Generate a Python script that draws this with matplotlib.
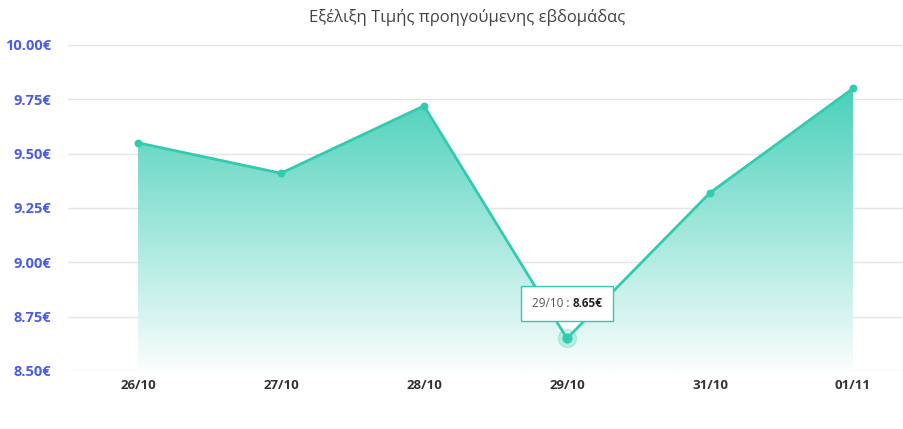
import matplotlib
matplotlib.use('Agg')
import matplotlib.pyplot as plt
import numpy as np
from matplotlib.colors import LinearSegmentedColormap
from matplotlib.offsetbox import TextArea, HPacker, AnnotationBbox

# δεδομένα
dates = ['26/10', '27/10', '28/10', '29/10', '31/10', '01/11']
prices = [9.55, 9.41, 9.72, 8.65, 9.32, 9.80]
yticks = [8.50, 8.75, 9.00, 9.25, 9.50, 9.75, 10.00]
title = 'Εξέλιξη Τιμής προηγούμενης εβδομάδας'
hl = 3  # σημείο με tooltip

teal = '#33cbb0'
plt.rcParams['font.family'] = ['Open Sans', 'DejaVu Sans']

fig = plt.figure(figsize=(9.04, 4.29), dpi=100)
ax = fig.add_axes([68 / 904, 1 - 371 / 429, 1 - 68 / 904, 326 / 429])

x = np.arange(len(dates))
ax.set_xlim(-0.49, 5.357)
ax.set_ylim(8.5, 10.0)

# gradient fill κάτω από τη γραμμή
cmap = LinearSegmentedColormap.from_list('g', ['#fafefe', '#3ccdb5'])
grad = np.linspace(0, 1, 256).reshape(-1, 1)
im = ax.imshow(grad, aspect='auto', cmap=cmap, origin='lower', alpha=0.93,
               extent=[x[0], x[-1], 8.5, max(prices)], zorder=1)
poly = ax.fill_between(x, prices, 8.5, color='none', lw=0)
im.set_clip_path(poly.get_paths()[0], transform=ax.transData)

ax.plot(x, prices, color=teal, lw=2, zorder=3)
ax.scatter(x, prices, s=22, color=teal, zorder=4)
ax.scatter([x[hl]], [prices[hl]], s=170, color=teal, alpha=0.25, zorder=3)
ax.scatter([x[hl]], [prices[hl]], s=40, color=teal, zorder=4)

ax.set_yticks(yticks)
ax.set_yticklabels([f'{v:.2f}€' for v in yticks], color='#4a5de3',
                   fontweight='bold', fontsize=10.5)
ax.set_xticks(x)
ax.set_xticklabels(dates, color='#333333', fontweight='bold', fontsize=9.5)
ax.tick_params(axis='both', length=0)
ax.tick_params(axis='y', pad=12)
ax.tick_params(axis='x', pad=6)
ax.grid(axis='y', color='#e4e4e4', lw=1)
ax.set_axisbelow(True)
for s in ax.spines.values():
    s.set_visible(False)

# tooltip
t1 = TextArea(f'{dates[hl]} : ', textprops=dict(color='#555555', fontsize=8.5))
t2 = TextArea(f'{prices[hl]:.2f}€', textprops=dict(color='#222222', fontsize=8.5,
                                                     fontweight='bold'))
box = HPacker(children=[t1, t2], align='baseline', pad=0, sep=0)
ab = AnnotationBbox(box, (x[hl], prices[hl]), xybox=(0, 25), xycoords='data',
                    boxcoords='offset points', frameon=True, pad=0.8,
                    bboxprops=dict(edgecolor=teal, facecolor='white', lw=1))
ax.add_artist(ab)
ab.set_zorder(6)

fig.text(467 / 904, 1 - 18 / 429, title, ha='center', va='center',
         fontsize=12, color='#444444')

fig.savefig('out.png', dpi=100)
